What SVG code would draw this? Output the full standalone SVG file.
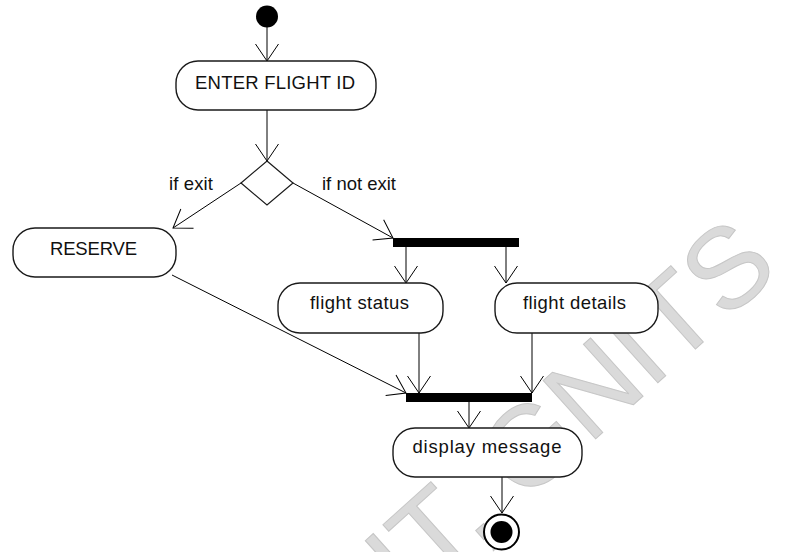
<svg xmlns="http://www.w3.org/2000/svg" width="790" height="552" viewBox="0 0 790 552">
  <defs>
    <marker id="open-arrow" markerUnits="userSpaceOnUse" markerWidth="40" markerHeight="40" refX="0" refY="0" orient="auto" overflow="visible">
      <path d="M-17,-11.5 L0,0 L-17,11.5" fill="none" stroke="#000" stroke-width="1"/>
    </marker>
  </defs>
  <style>
    .bg { fill: #ffffff; }
    .watermark { font-family: "Liberation Sans", Arial, sans-serif; font-size: 114px; fill: #dadada; stroke: #c6c6c6; stroke-width: 1; }
    .action { fill: #ffffff; stroke: #1a1a1a; stroke-width: 1.4; }
    .bar { fill: #000000; }
    .decision { fill: #ffffff; stroke: #1a1a1a; stroke-width: 1.2; }
    .label { font-family: "Liberation Sans", Arial, sans-serif; font-size: 18.5px; fill: #111111; }
    .mid { text-anchor: middle; }
    .edge { fill: none; stroke: #000000; stroke-width: 1; marker-end: url(#open-arrow); }
  </style>

  <rect class="bg" x="0" y="0" width="790" height="552"/>

  <!-- background stamp -->
  <text class="watermark" transform="translate(410,606) rotate(-42)">IT, GNITS</text>

  <!-- transitions -->
  <g id="connectors">
    <line class="edge" x1="267" y1="27" x2="267" y2="61"/>
    <line class="edge" x1="267" y1="110" x2="267" y2="161"/>
    <line class="edge" x1="241" y1="183" x2="173" y2="228"/>
    <line class="edge" x1="293" y1="183" x2="393" y2="238"/>
    <line class="edge" x1="406" y1="247" x2="406" y2="283"/>
    <line class="edge" x1="506" y1="247" x2="506" y2="283"/>
    <line class="edge" x1="419" y1="333" x2="419" y2="393"/>
    <line class="edge" x1="532" y1="333" x2="532" y2="393"/>
    <line class="edge" x1="172" y1="275" x2="406" y2="393"/>
    <line class="edge" x1="469" y1="402" x2="469" y2="428"/>
    <line class="edge" x1="502" y1="477" x2="502" y2="513"/>
    <text class="label" x="169" y="190" textLength="44">if exit</text>
    <text class="label" x="322" y="190" textLength="74">if not exit</text>
  </g>

  <g id="start">
    <circle cx="267" cy="16.5" r="11" fill="#000"/>
  </g>

  <g id="enter-flight-id">
    <rect class="action" x="176" y="61" width="200" height="49" rx="22" ry="22"/>
    <text class="label mid" x="275" y="89" textLength="160">ENTER FLIGHT ID</text>
  </g>

  <g id="decision">
    <polygon class="decision" points="267,161 293,183 267,205 241,183"/>
  </g>

  <g id="reserve">
    <rect class="action" x="13" y="228" width="163" height="49" rx="22" ry="22"/>
    <text class="label mid" x="93.5" y="255" textLength="87">RESERVE</text>
  </g>

  <g id="fork">
    <rect class="bar" x="393" y="238" width="126" height="9"/>
  </g>

  <g id="flight-status">
    <rect class="action" x="278" y="283" width="165" height="50" rx="22" ry="22"/>
    <text class="label mid" x="359.5" y="309" textLength="99">flight status</text>
  </g>

  <g id="flight-details">
    <rect class="action" x="495" y="283" width="163" height="50" rx="22" ry="22"/>
    <text class="label mid" x="574.5" y="309" textLength="103">flight details</text>
  </g>

  <g id="join">
    <rect class="bar" x="406" y="393" width="126" height="9"/>
  </g>

  <g id="display-message">
    <rect class="action" x="393" y="428" width="189" height="49" rx="22" ry="22"/>
    <text class="label mid" x="487" y="453" textLength="149">display message</text>
  </g>

  <g id="end">
    <circle cx="501.5" cy="532" r="17.5" fill="#fff" stroke="#000" stroke-width="2"/>
    <circle cx="501.5" cy="532" r="11" fill="#000"/>
  </g>
</svg>
